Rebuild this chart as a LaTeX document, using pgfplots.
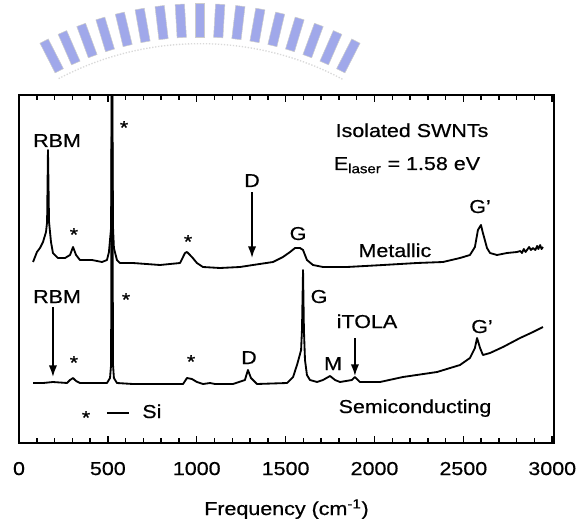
\documentclass[border=0pt]{standalone}
\usepackage{pgfplots}
\pgfplotsset{compat=1.18}
\usetikzlibrary{arrows.meta}
\usepackage{fontspec}
\setmainfont[FakeStretch=1.15, FakeBold=0.6]{Liberation Sans}

\definecolor{emblem}{RGB}{160,168,234}

\begin{document}
\begin{tikzpicture}[font=\fontsize{11.2}{13.4}\selectfont]
\useasboundingbox (0,0) rectangle (347.4pt,311.4pt);

% emblem arc above the figure
\begin{scope}[shift={(120pt,103.2pt)}]
  \foreach \i [evaluate=\i as \a using -27+3.375*\i] in {0,...,16} {
    \fill[emblem, draw=gray!40, line width=0.3pt, rotate=\a] (-2.8pt,186pt) rectangle (2.8pt,206pt);
  }
  \draw[gray!30, densely dotted, line width=0.8pt] (62:182pt) arc (62:118:182pt);
\end{scope}

\begin{axis}[
  at={(11.4pt,45.6pt)}, anchor=south west,
  scale only axis, width=321pt, height=208.8pt,
  xmin=0, xmax=3010, ymin=0, ymax=348,
  axis line style={line width=1.2pt},
  ytick=\empty,
  xtick={0,500,...,3000},
  minor x tick num=4,
  xtick pos=both,
  tick align=inside,
  major tick length=4.5pt, minor tick length=3pt,
  every tick/.style={black, line width=0.9pt},
  /pgf/number format/assume math mode=true,
  /pgf/number format/set thousands separator={},
  scaled x ticks=false,
  xticklabel style={anchor=base, yshift=-19.2pt, font=\fontsize{11.2}{13.4}\selectfont},
  xlabel={Frequency (cm\textsuperscript{-1})},
  xlabel style={at={(axis description cs:0.5,0)}, anchor=base, yshift=-43.2pt, font=\fontsize{11.2}{13.4}\selectfont},
]

% Metallic spectrum
\addplot[black, line width=1.1pt, line join=round] coordinates {
(79,181) (101,191) (118,195) (135,201) (152,211) (158,221) (163,293)
(169,221) (180,201) (191,190) (219,185) (259,185) (287,188) (304,196)
(321,188) (343,183) (411,183) (467,181) (495,183) (506,191) (518,215)
(523,420) (529,215) (534,195) (551,183) (568,180) (641,180) (793,178)
(906,180) (934,190) (945,191) (973,186) (1001,180) (1035,176) (1131,175)
(1243,176) (1316,178) (1429,181) (1485,186) (1525,191) (1553,195)
(1581,195) (1598,193) (1620,183) (1654,178) (1710,176) (1845,176)
(2048,178) (2239,180) (2385,181) (2481,185) (2537,188) (2565,196)
(2582,213) (2599,218) (2610,210) (2633,195) (2650,190) (2689,188)
(2745,190) (2802,191) (2820,192) (2830,190) (2840,194) (2850,191)
(2858,193) (2870,196) (2880,193) (2892,195) (2905,193) (2915,197)
(2922,194) (2932,198) (2940,194) (2948,196)
};

% Semiconducting spectrum
\addplot[black, line width=1.1pt, line join=round] coordinates {
(79,60) (135,60) (191,61) (270,60) (287,63) (304,65) (321,62) (343,60)
(495,60) (512,65) (518,78) (523,420) (529,78) (534,65) (551,60) (641,59)
(923,59) (945,65) (973,64) (1001,61) (1035,59) (1075,60) (1103,59)
(1204,59) (1271,63) (1288,73) (1305,65) (1339,59) (1508,60) (1542,66)
(1564,78) (1575,85) (1587,93) (1592,113) (1598,173) (1603,113) (1609,83)
(1620,68) (1637,63) (1677,61) (1710,63) (1750,67) (1778,63) (1806,61)
(1873,63) (1890,66) (1918,61) (2031,61) (2160,66) (2352,71) (2481,78)
(2537,85) (2565,95) (2577,105) (2594,95) (2610,88) (2650,90) (2723,96)
(2819,105) (2892,111) (2948,116)
};

% labels for the metallic spectrum
\node[anchor=base] at (axis cs:214,296) {RBM};
\node[anchor=base] at (axis cs:591,309) {*};
\node[anchor=base] at (axis cs:309,202) {*};
\node[anchor=base] at (axis cs:951,195) {*};
\node[anchor=base] at (axis cs:1311,256) {D};
\draw[-{Latex[length=7pt,width=5pt]}, line width=1pt] (axis cs:1311,251) -- (axis cs:1311,185);
\node[anchor=base] at (axis cs:1570,203) {G};
\node[anchor=base] at (axis cs:2594,230) {G’};
\node[anchor=base] at (axis cs:2115,186) {Metallic};
\node[anchor=base] at (axis cs:2211,306) {Isolated SWNTs};
\node[anchor=base] at (axis cs:2183,273) {E\textsubscript{laser} = 1.58 eV};

% labels for the semiconducting spectrum
\node[anchor=base] at (axis cs:214,140) {RBM};
\draw[-{Latex[length=7pt,width=5pt]}, line width=1pt] (axis cs:191,136) -- (axis cs:191,66);
\node[anchor=base] at (axis cs:602,137) {*};
\node[anchor=base] at (axis cs:309,74) {*};
\node[anchor=base] at (axis cs:968,75) {*};
\node[anchor=base] at (axis cs:1294,79) {D};
\node[anchor=base] at (axis cs:1688,140) {G};
\node[anchor=base] at (axis cs:1958,115) {iTOLA};
\draw[-{Latex[length=7pt,width=5pt]}, line width=1pt] (axis cs:1890,105) -- (axis cs:1890,67);
\node[anchor=base] at (axis cs:1767,73) {M};
\node[anchor=base] at (axis cs:2605,110) {G’};
\node[anchor=base] at (axis cs:2228,30) {Semiconducting};

% key for the substrate peaks
\node[anchor=base] at (axis cs:377,19) {*};
\draw[line width=1.1pt] (axis cs:495,30) -- (axis cs:619,30);
\node[anchor=base west, inner sep=0pt] at (axis cs:692,25) {Si};

\end{axis}
\end{tikzpicture}
\end{document}
